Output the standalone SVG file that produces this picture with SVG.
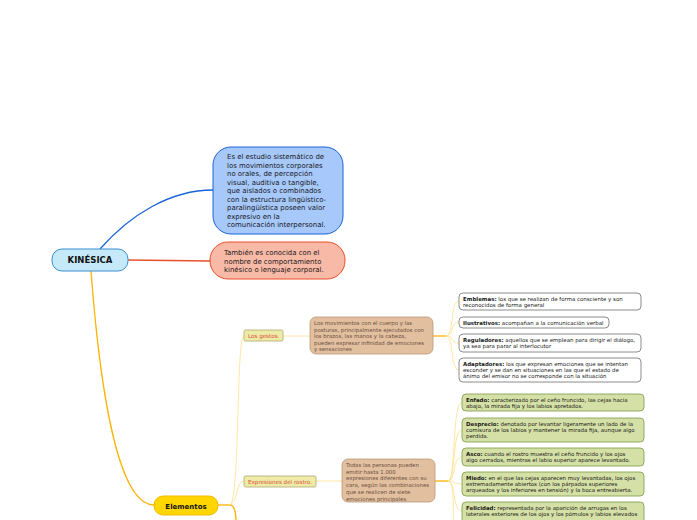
<svg xmlns="http://www.w3.org/2000/svg" width="697" height="520" viewBox="0 0 697 520">
<style>
text{font-family:"DejaVu Sans",Verdana,sans-serif;}
.t6{font-size:6.95px;fill:#1a1a1a;}
.t5{font-size:5.45px;fill:#1a1a1a;}
.tb{font-size:5.4px;fill:#6b5040;}
.lbl{font-size:5.6px;fill:#d8503a;}
.wbox{fill:#ffffff;stroke:#707070;stroke-width:0.8;}
.gbox{fill:#d5e0a6;stroke:#7c9a4a;stroke-width:0.8;}
.bbox{fill:#e2bf9f;stroke:#b89878;stroke-width:0.8;}
.ybox{fill:#eeeaa8;stroke:#b0a870;stroke-width:0.8;}
.thin{fill:none;stroke:#ffe08c;stroke-width:0.8;}
.org{fill:none;stroke:#ffb300;stroke-width:1.3;}
.bold{font-weight:bold;}
</style>
<rect width="697" height="520" fill="#ffffff"/>
<g id="connectors">
  <path d="M100,249 C130,215 170,190 213,190" fill="none" stroke="#1a63d8" stroke-width="1.3"/>
  <path d="M128,260 L210,261" fill="none" stroke="#e8502a" stroke-width="1.3"/>
  <path d="M91,271 C100,390 118,505 154,505" class="org"/>
  <path d="M218,505 L230,505" class="org"/>
  <path d="M230,505 C236,505 236,520 236,520" class="org"/>
  <path d="M230,505 C240,500 236,336 244,336" class="thin"/>
  <path d="M230,505 C238,502 236,481 244,481" class="thin"/>
  <path d="M283,336 L310,336" class="thin"/>
  <path d="M316,481 L342,481" class="thin"/>
  <path d="M433,336 L446,336" class="org"/>
  <path d="M446,336 C454,336 450,301 459,301" class="thin"/>
  <path d="M446,336 C454,336 450,322 459,322" class="thin"/>
  <path d="M446,336 C454,336 450,343 459,343" class="thin"/>
  <path d="M446,336 C454,336 450,370 459,370" class="thin"/>
  <path d="M435,481 L448,481" class="org"/>
  <path d="M448,481 C456,481 452,402 462,402" class="thin"/>
  <path d="M448,481 C456,481 452,430 462,430" class="thin"/>
  <path d="M448,481 C456,481 452,457 462,457" class="thin"/>
  <path d="M448,481 C456,481 452,484 462,484" class="thin"/>
  <path d="M448,481 C456,481 452,511 462,511" class="thin"/>
  <path d="M448,481 C456,481 452,520 454,520" class="thin"/>
</g>
<g id="kinesica">
  <rect x="52" y="249" width="76" height="22" rx="10" fill="#c5e9f8" stroke="#3a8fd0" stroke-width="1"/>
  <text x="90" y="263" text-anchor="middle" font-size="8.5" font-weight="bold" fill="#111">KINÉSICA</text>
</g>
<g id="definicion">
  <rect x="213" y="147" width="130" height="87" rx="18" fill="#a6c8fa" stroke="#1a63d8" stroke-width="1"/>
  <text class="t6" x="227" y="159">Es el estudio sistemático de</text>
  <text class="t6" x="227" y="167.5">los movimientos corporales</text>
  <text class="t6" x="227" y="176">no orales, de percepción</text>
  <text class="t6" x="227" y="184.5">visual, auditiva o tangible,</text>
  <text class="t6" x="227" y="193">que aislados o combinados</text>
  <text class="t6" x="227" y="201.5">con la estructura lingüístico-</text>
  <text class="t6" x="227" y="210">paralingüística poseen valor</text>
  <text class="t6" x="227" y="218.5">expresivo en la</text>
  <text class="t6" x="227" y="227">comunicación interpersonal.</text>
</g>
<g id="conocida">
  <rect x="210" y="242" width="135" height="37" rx="18" fill="#f9b9a7" stroke="#e8502a" stroke-width="1"/>
  <text class="t6" x="224" y="255">También es conocida con el</text>
  <text class="t6" x="224" y="263.5">nombre de comportamiento</text>
  <text class="t6" x="224" y="272">kinésico o lenguaje corporal.</text>
</g>
<g id="elementos">
  <rect x="154" y="496" width="64" height="19" rx="9" fill="#ffd600" stroke="#f5b800" stroke-width="1"/>
  <text x="186" y="508.5" text-anchor="middle" font-size="7" font-weight="bold" fill="#111">Elementos</text>
</g>
<g id="gestos">
  <rect class="ybox" x="244" y="330" width="39" height="11" rx="1.5"/>
  <text class="lbl" x="248" y="338">Los gestos.</text>
</g>
<g id="gestos-desc">
  <rect class="bbox" x="310" y="317" width="123" height="37" rx="6"/>
  <text class="tb" x="314" y="325">Los movimientos con el cuerpo y las</text>
  <text class="tb" x="314" y="331.5">posturas, principalmente ejecutados con</text>
  <text class="tb" x="314" y="338">los brazos, las manos y la cabeza,</text>
  <text class="tb" x="314" y="344.5">pueden expresar infinidad de emociones</text>
  <text class="tb" x="314" y="351">y sensaciones</text>
</g>
<g id="emblemas">
  <rect class="wbox" x="459" y="293" width="182" height="17" rx="4"/>
  <text class="t5" x="463" y="300.5"><tspan class="bold">Emblemas:</tspan> los que se realizan de forma consciente y son</text>
  <text class="t5" x="463" y="306.5">reconocidos de forma general</text>
</g>
<g id="ilustrativos">
  <rect class="wbox" x="459" y="317" width="150" height="11" rx="4"/>
  <text class="t5" x="463" y="324.5"><tspan class="bold">Ilustrativos:</tspan> acompañan a la comunicación verbal</text>
</g>
<g id="reguladores">
  <rect class="wbox" x="459" y="334" width="182" height="18" rx="4"/>
  <text class="t5" x="463" y="341.5"><tspan class="bold">Reguladores:</tspan> aquellos que se emplean para dirigir el diálogo,</text>
  <text class="t5" x="463" y="347.5">ya sea para parar al interlocutor</text>
</g>
<g id="adaptadores">
  <rect class="wbox" x="459" y="358" width="182" height="24" rx="4"/>
  <text class="t5" x="463" y="365.5"><tspan class="bold">Adaptadores:</tspan> los que expresan emociones que se intentan</text>
  <text class="t5" x="463" y="371.5">esconder y se dan en situaciones en las que el estado de</text>
  <text class="t5" x="463" y="377.5">ánimo del emisor no se corresponde con la situación</text>
</g>
<g id="expresiones">
  <rect class="ybox" x="244" y="476" width="72" height="11" rx="1.5"/>
  <text class="lbl" x="248" y="484">Expresiones del rostro.</text>
</g>
<g id="expresiones-desc">
  <rect class="bbox" x="342" y="459" width="93" height="43" rx="6"/>
  <text class="tb" x="346" y="467">Todas las personas pueden</text>
  <text class="tb" x="346" y="473.7">emitir hasta 1.000</text>
  <text class="tb" x="346" y="480.4">expresiones diferentes con su</text>
  <text class="tb" x="346" y="487.1">cara, según las combinaciones</text>
  <text class="tb" x="346" y="493.8">que se realicen de siete</text>
  <text class="tb" x="346" y="500.5">emociones principales</text>
</g>
<g id="enfado">
  <rect class="gbox" x="462" y="394" width="182" height="17" rx="4"/>
  <text class="t5" x="466" y="401.5"><tspan class="bold">Enfado:</tspan> caracterizado por el ceño fruncido, las cejas hacia</text>
  <text class="t5" x="466" y="407.5">abajo, la mirada fija y los labios apretados.</text>
</g>
<g id="desprecio">
  <rect class="gbox" x="462" y="418" width="182" height="24" rx="4"/>
  <text class="t5" x="466" y="425.5"><tspan class="bold">Desprecio:</tspan> denotado por levantar ligeramente un lado de la</text>
  <text class="t5" x="466" y="431.5">comisura de los labios y mantener la mirada fija, aunque algo</text>
  <text class="t5" x="466" y="437.5">perdida.</text>
</g>
<g id="asco">
  <rect class="gbox" x="462" y="448" width="182" height="18" rx="4"/>
  <text class="t5" x="466" y="455.5"><tspan class="bold">Asco:</tspan> cuando el rostro muestra el ceño fruncido y los ojos</text>
  <text class="t5" x="466" y="461.5">algo cerrados, mientras el labio superior aparece levantado.</text>
</g>
<g id="miedo">
  <rect class="gbox" x="462" y="472" width="182" height="24" rx="4"/>
  <text class="t5" x="466" y="479.5"><tspan class="bold">Miedo:</tspan> en el que las cejas aparecen muy levantadas, los ojos</text>
  <text class="t5" x="466" y="485.5">extremadamente abiertos (con los párpados superiores</text>
  <text class="t5" x="466" y="491.5">arqueados y los inferiores en tensión) y la boca entreabierta.</text>
</g>
<g id="felicidad">
  <rect class="gbox" x="462" y="502" width="182" height="22" rx="4"/>
  <text class="t5" x="466" y="509.5"><tspan class="bold">Felicidad:</tspan> representada por la aparición de arrugas en los</text>
  <text class="t5" x="466" y="515.5">laterales exteriores de los ojos y los pómulos y labios elevados</text>
</g>
</svg>
